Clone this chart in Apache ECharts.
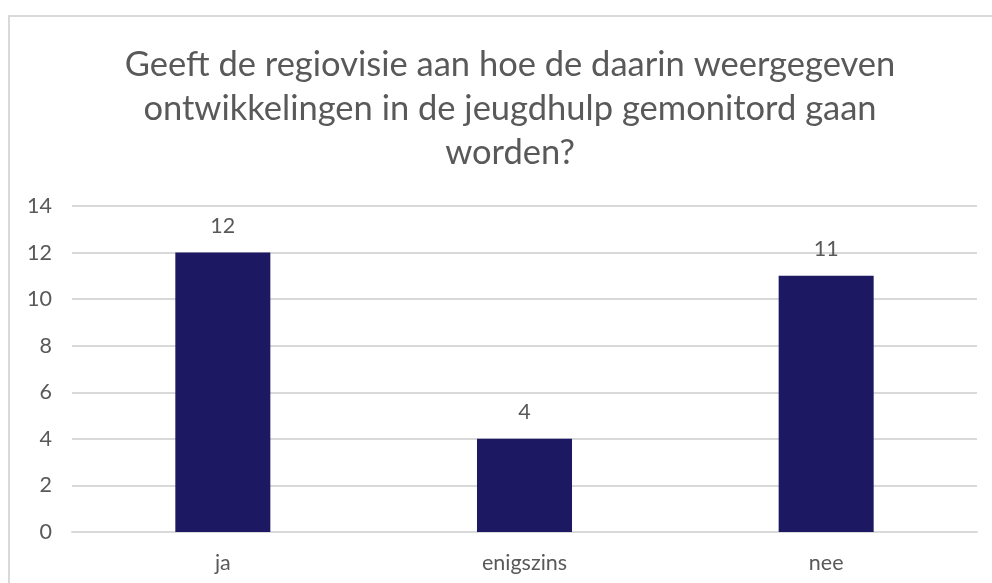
<!DOCTYPE html>
<html>
<head>
<meta charset="utf-8">
<script src="https://cdn.jsdelivr.net/npm/echarts@6/dist/echarts.min.js"></script>
<style>
html,body{margin:0;padding:0;background:#fff;}
#main{width:992px;height:583px;}
</style>
</head>
<body>
<div id="main"></div>
<script>
var titleText = 'Geeft de regiovisie aan hoe de daarin weergegeven\nontwikkelingen in de jeugdhulp gemonitord gaan\nworden?';
var categories = ['ja', 'enigszins', 'nee'];
var values = [12, 4, 11];
var yMin = 0, yMax = 14, yStep = 2;

var chart = echarts.init(document.getElementById('main'));
var option = {
	backgroundColor: '#fff',
	animation: false,
	graphic: [{
		type: 'rect',
		shape: {x: 9, y: 16, width: 1000, height: 600},
		style: {fill: 'none', stroke: '#d9d9d9', lineWidth: 2}
	}],
	title: {
		text: titleText,
		left: 505,
		top: 38,
		textAlign: 'center',
		textStyle: {
			fontFamily: 'Lato',
			fontWeight: 'normal',
			fontSize: 34.5,
			lineHeight: 44,
			color: '#595959'
		}
	},
	grid: {left: 72, right: 15, top: 206, bottom: 51, containLabel: false},
	xAxis: {
		type: 'category',
		data: categories,
		axisLine: {show: true, lineStyle: {color: '#d9d9d9', width: 2}},
		axisTick: {show: false},
		axisLabel: {color: '#595959', fontSize: 21.5, fontFamily: 'Lato', margin: 20}
	},
	yAxis: {
		type: 'value',
		min: yMin, max: yMax, interval: yStep,
		axisLine: {show: false},
		axisTick: {show: false},
		axisLabel: {color: '#595959', fontSize: 21.5, fontFamily: 'Lato', margin: 20},
		splitLine: {lineStyle: {color: '#d9d9d9', width: 2}}
	},
	series: [{
		type: 'bar',
		data: values,
		barWidth: '31.5%',
		itemStyle: {color: '#1d1862'},
		label: {
			show: true,
			position: 'top',
			distance: 16,
			color: '#595959',
			fontSize: 21.5,
			fontFamily: 'Lato'
		}
	}]
};
chart.setOption(option);
</script>
</body>
</html>
